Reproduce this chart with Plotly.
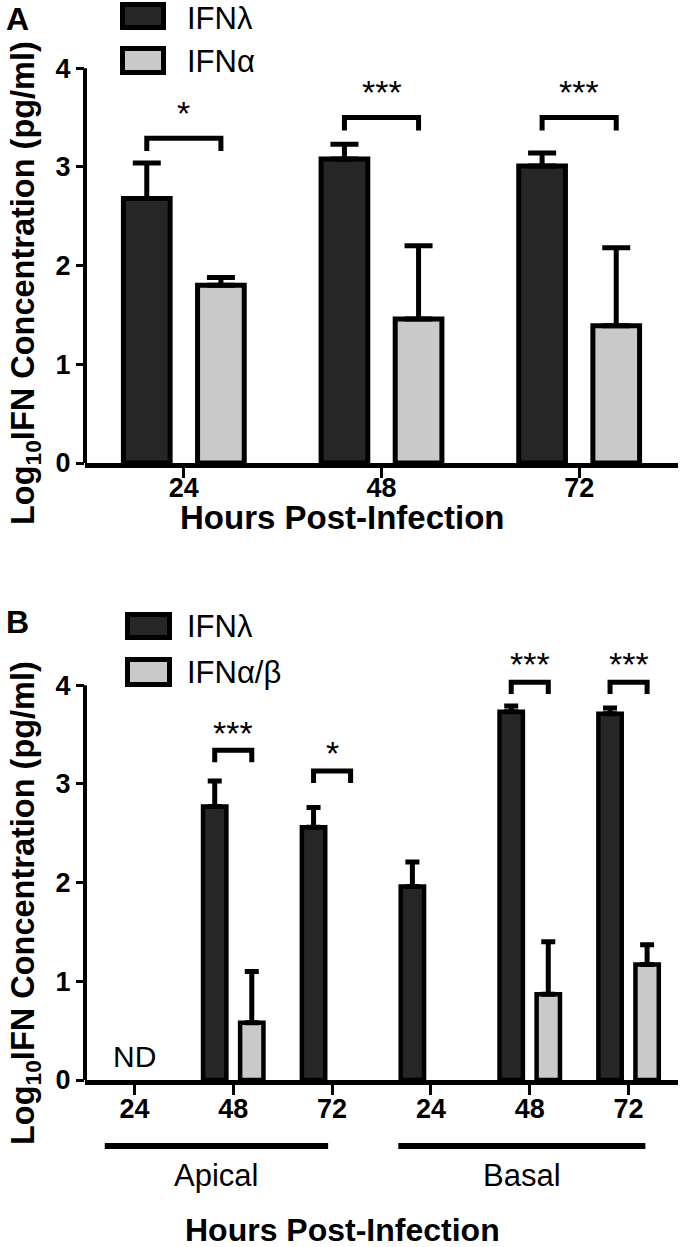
import plotly.graph_objects as go

# ---------------- data ----------------
# Panel A
hours_a = ["24", "48", "72"]
lambda_a = [2.68, 3.08, 3.01]
lambda_a_sd = [0.36, 0.15, 0.13]
alpha_a = [1.80, 1.46, 1.39]
alpha_a_sd = [0.08, 0.74, 0.79]
sig_a = ["*", "***", "***"]

# Panel B
hours_b = ["24", "48", "72", "24", "48", "72"]
site_b = ["Apical", "Apical", "Apical", "Basal", "Basal", "Basal"]
lambda_b = [None, 2.77, 2.56, 1.96, 3.73, 3.71]
lambda_b_sd = [0, 0.26, 0.20, 0.25, 0.06, 0.06]
ab_b = [None, 0.58, None, None, 0.87, 1.17]
ab_b_sd = [0, 0.52, 0, 0, 0.53, 0.20]
sig_b = ["", "***", "*", "", "***", "***"]
nd_b = ["ND", "", "", "", "", ""]

# ---------------- style ----------------
DARK = "#262626"
LIGHT = "#c9c9c9"
FONT = "Liberation Sans, Arial, Helvetica, sans-serif"

W, H = 680, 1247
ML, MR, MT, MB = 85, 2, 0, 167
PW = W - ML - MR
PH = H - MT - MB

BARGAP = 0.25
BARGROUPGAP = 0.37
OFF = (1 - BARGAP) / 4  # centre offset of each bar in a group


def px_x(x):
    return (x - ML) / PW


def px_y(y):
    return (PH - (y - MT)) / PH


xs_a = list(range(len(hours_a)))
xs_b = list(range(len(hours_b)))

fig = go.Figure()


def add_bars(xs, ys, sd, color, lw, capw, xa, ya, name):
    fig.add_bar(
        x=xs, y=ys, name=name, xaxis=xa, yaxis=ya, showlegend=False,
        marker=dict(color=color, line=dict(color="black", width=lw)),
        error_y=dict(type="data", array=sd, arrayminus=[0] * len(sd),
                     symmetric=False, color="black", thickness=5, width=capw),
    )


add_bars(xs_a, lambda_a, lambda_a_sd, DARK, 5, 14, "x", "y", "IFNλ")
add_bars(xs_a, alpha_a, alpha_a_sd, LIGHT, 5, 14, "x", "y", "IFNα")
add_bars(xs_b, lambda_b, lambda_b_sd, DARK, 4.5, 7, "x2", "y2", "IFNλ")
add_bars(xs_b, ab_b, ab_b_sd, LIGHT, 4.5, 7, "x2", "y2", "IFNα/β")

tickfont = dict(family=FONT, size=27, color="black", weight="bold")
xcommon = dict(showline=True, linewidth=5, linecolor="black", ticks="outside",
               ticklen=10, tickwidth=3, tickcolor="black", showgrid=False,
               zeroline=False, tickfont=tickfont)
ycommon = dict(showline=False, ticks="outside", ticklen=8, tickwidth=3,
               tickcolor="black", showgrid=False, zeroline=False,
               tickvals=[0, 1, 2, 3, 4], tickfont=tickfont, range=[0, 4.6])

fig.update_layout(
    width=W, height=H,
    margin=dict(l=ML, r=MR, t=MT, b=MB),
    paper_bgcolor="white", plot_bgcolor="white",
    barmode="group", bargap=BARGAP, bargroupgap=BARGROUPGAP,
    showlegend=False,
    font=dict(family=FONT, color="black"),
    xaxis=dict(domain=[0, 1], anchor="y", range=[-0.5, len(xs_a) - 0.5],
               tickvals=xs_a, ticktext=hours_a, ticklabelstandoff=-13, **xcommon),
    yaxis=dict(domain=[px_y(463), px_y(9)], anchor="x", **ycommon),
    xaxis2=dict(domain=[0, 1], anchor="y2", range=[-0.5, len(xs_b) - 0.5],
                tickvals=xs_b, ticktext=hours_b, ticklabelstandoff=-9, **xcommon),
    yaxis2=dict(domain=[0, px_y(626)], anchor="x2", **ycommon),
)

shapes = []
annotations = []

# y-axis lines running from 0 to 4
for xa, ya in (("x", "y"), ("x2", "y2")):
    shapes.append(dict(type="line", xref=xa + " domain", yref=ya, x0=0, x1=0,
                       y0=0, y1=4, line=dict(color="black", width=4)))

# significance brackets
bracket_a = [3.29, 3.50, 3.50]
bracket_b = [None, 3.34, 3.13, None, 4.03, 4.03]


def add_sig(xs, sigs, heights, drop, gap, xa, ya):
    for x, s, h in zip(xs, sigs, heights):
        if not s:
            continue
        x0, x1 = x - OFF, x + OFF
        shapes.append(dict(type="path", xref=xa, yref=ya,
                           path=f"M {x0},{h - drop} L {x0},{h} L {x1},{h} L {x1},{h - drop}",
                           line=dict(color="black", width=5)))
        annotations.append(dict(x=x, y=h + gap, xref=xa, yref=ya, text=s,
                                showarrow=False, xanchor="center", yanchor="middle",
                                font=dict(family=FONT, size=34, color="black")))


add_sig(xs_a, sig_a, bracket_a, 0.13, 0.26, "x", "y")
add_sig(xs_b, sig_b, bracket_b, 0.12, 0.18, "x2", "y2")

# ND label
for x, t in zip(xs_b, nd_b):
    if t:
        annotations.append(dict(x=x, y=0.24, xref="x2", yref="y2", text=t,
                                showarrow=False, xanchor="center", yanchor="middle",
                                font=dict(family=FONT, size=30, color="black")))

# site group lines and labels under panel B
site_spans = {"Apical": (-0.30, 1.96), "Basal": (2.67, 5.17)}
for site in dict.fromkeys(site_b):
    a, b = site_spans[site]
    shapes.append(dict(type="line", xref="x2", yref="paper", x0=a, x1=b,
                       y0=px_y(1146), y1=px_y(1146), line=dict(color="black", width=6)))
    annotations.append(dict(x=(a + b) / 2, y=px_y(1175), xref="x2", yref="paper",
                            text=site, showarrow=False, xanchor="center", yanchor="middle",
                            font=dict(family=FONT, size=31, color="black")))


# custom legends
def legend(entries, box_x, rows_y, text_x, fs):
    for (label, color), (ytop, ybot) in zip(entries, rows_y):
        shapes.append(dict(type="rect", xref="paper", yref="paper",
                           x0=px_x(box_x[0]), x1=px_x(box_x[1]),
                           y0=px_y(ybot), y1=px_y(ytop), fillcolor=color,
                           line=dict(color="black", width=5)))
        cy = (ytop + ybot) / 2
        top = cy - fs * 0.57
        annotations.append(dict(x=px_x(text_x), y=px_y(max(top, 0)), xref="paper",
                                yref="paper", text=label, showarrow=False,
                                xanchor="left", yanchor="top", borderpad=0,
                                font=dict(family=FONT, size=fs, color="black")))


legend([("IFNλ", DARK), ("IFNα", LIGHT)], (122.5, 163.5), [(4.5, 27.5), (48.5, 72.5)], 186, 31)
legend([("IFNλ", DARK), ("IFNα/β", LIGHT)], (127.5, 169.5), [(614.5, 637.5), (659.5, 684.5)], 186, 31)

# panel letters
for letter, ytop in (("A", 0), ("B", 603)):
    annotations.append(dict(x=px_x(17), y=px_y(ytop), xref="paper", yref="paper",
                            text=letter, showarrow=False, xanchor="center", yanchor="top",
                            borderpad=0,
                            font=dict(family=FONT, size=32, color="black", weight="bold")))

# axis titles
ytitle = "Log<sub>10</sub>IFN Concentration (pg/ml)"
for cy in (283, 903):
    annotations.append(dict(x=px_x(25), y=px_y(cy), xref="paper", yref="paper",
                            text=ytitle, textangle=-90, showarrow=False,
                            xanchor="center", yanchor="middle",
                            font=dict(family=FONT, size=32.5, color="black", weight="bold")))
xtitle = "Hours Post-Infection"
for cy, fs in ((517, 33), (1230, 32)):
    annotations.append(dict(x=px_x(342), y=px_y(cy), xref="paper", yref="paper",
                            text=xtitle, showarrow=False, xanchor="center", yanchor="middle",
                            font=dict(family=FONT, size=fs, color="black", weight="bold")))

fig.update_layout(shapes=shapes, annotations=annotations)
fig.write_html("out.html", config={"displayModeBar": False},
               post_script="document.body.style.margin='0px';")
